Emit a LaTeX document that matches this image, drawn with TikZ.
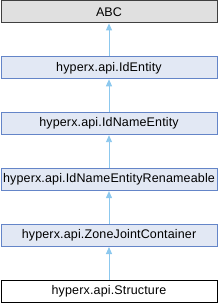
\documentclass[tikz,border=0pt]{standalone}
\usepackage{fontspec}
\setmainfont[LetterSpace=1.2]{Liberation Sans}
\usepackage{xcolor}
\usetikzlibrary{positioning, arrows.meta}

\definecolor{boxfill}{HTML}{E2E8F4}
\definecolor{boxline}{HTML}{6485C8}
\definecolor{edgeblue}{HTML}{8CC8EE}
\definecolor{basefill}{HTML}{E0E0E0}

\begin{document}
\begin{tikzpicture}[
		x=1pt, y=1pt,
		node distance=33pt,
		classbox/.style={rectangle, draw=boxline, fill=boxfill, line width=0.9pt, minimum width=216pt, minimum height=22pt, inner sep=0pt, font=\fontsize{12.5}{14}\selectfont},
		basebox/.style={classbox, draw=black!75, fill=basefill},
		leafbox/.style={classbox, draw=black, fill=white},
		inherit/.style={{Triangle[width=6pt, length=7pt]}-, draw=edgeblue, fill=edgeblue, line width=0.9pt}
		]

		\useasboundingbox (0,0) rectangle (218,-304);

		\node[basebox, anchor=north] (abc) at (109,-0.5) {ABC};
		\node[classbox, below=of abc] (identity) {hyperx.api.IdEntity};
		\node[classbox, below=of identity] (idname) {hyperx.api.IdNameEntity};
		\node[classbox, below=of idname] (renameable) {hyperx.api.IdNameEntityRenameable};
		\node[classbox, below=of renameable] (zonejoint) {hyperx.api.ZoneJointContainer};
		\node[leafbox, below=of zonejoint] (structure) {hyperx.api.Structure};

		\draw[inherit] (abc) -- (identity);
		\draw[inherit] (identity) -- (idname);
		\draw[inherit] (idname) -- (renameable);
		\draw[inherit] (renameable) -- (zonejoint);
		\draw[inherit] (zonejoint) -- (structure);
	\end{tikzpicture}
\end{document}
